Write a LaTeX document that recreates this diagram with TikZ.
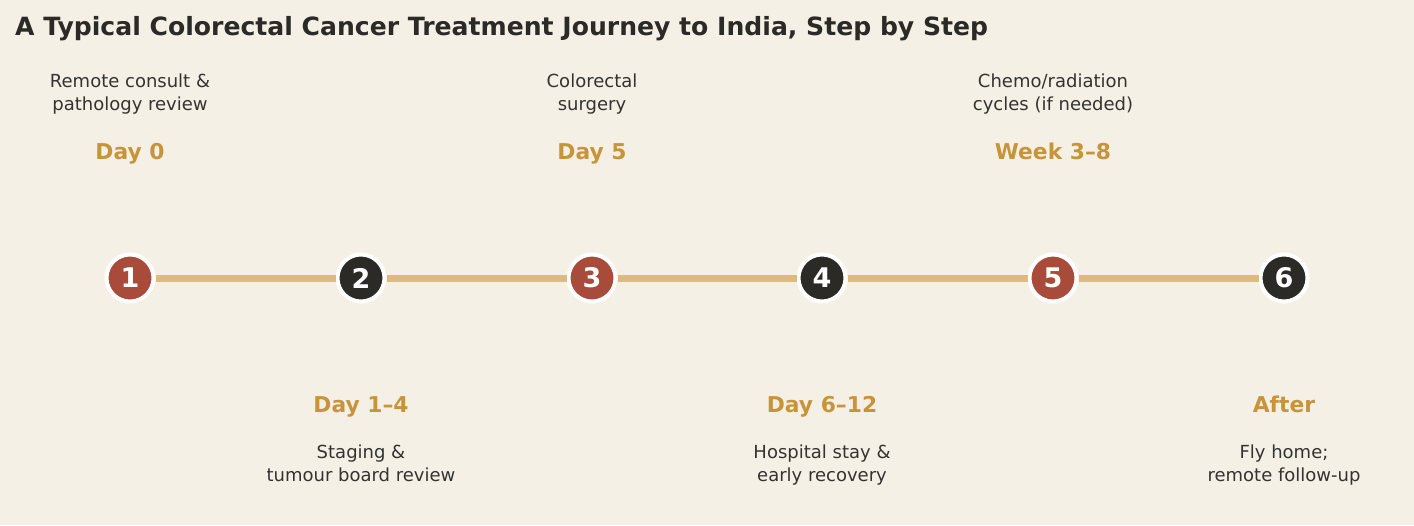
\documentclass[tikz,border=0pt]{standalone}
\usepackage{fontspec}
\setmainfont{DejaVu Sans}
\definecolor{bg}{HTML}{F5F0E6}
\definecolor{ink}{HTML}{2B2A26}
\definecolor{txt}{HTML}{333330}
\definecolor{redc}{HTML}{A84B3A}
\definecolor{darkc}{HTML}{2B2A26}
\definecolor{gold}{HTML}{C8943A}
\definecolor{linec}{HTML}{DDBB7C}
\begin{document}
\begin{tikzpicture}[x=1pt,y=-1pt,
  stepdot/.style={circle,minimum size=47pt,inner sep=0pt,draw=white,line width=4pt,text=white,font=\fontsize{27}{27}\selectfont\bfseries},
  reddot/.style={stepdot,fill=redc},
  darkdot/.style={stepdot,fill=darkc},
  desc/.style={align=center,text=txt,inner sep=0pt,anchor=base,font=\fontsize{18}{22.8}\selectfont},
  when/.style={text=gold,inner sep=0pt,anchor=base,font=\fontsize{21.8}{22}\selectfont\bfseries},
  link/.style={draw=linec,line width=7pt}]
\fill[bg] (0,0) rectangle (1414,525);
\useasboundingbox (0,0) rectangle (1414,525);
\node[anchor=base west,inner sep=0pt,text=ink,font=\fontsize{25.1}{30}\selectfont\bfseries] (title) at (15,35) {A Typical Colorectal Cancer Treatment Journey to India, Step by Step};
\node[reddot] (s1) at (130,278) {1};
\node[darkdot] (s2) at (361,278) {2};
\node[reddot] (s3) at (592,278) {3};
\node[darkdot] (s4) at (822,278) {4};
\node[reddot] (s5) at (1053,278) {5};
\node[darkdot] (s6) at (1284,278) {6};
\path[link] (s1) -- (s2);
\path[link] (s2) -- (s3);
\path[link] (s3) -- (s4);
\path[link] (s4) -- (s5);
\path[link] (s5) -- (s6);
\node[desc] (d1) at (130,110) {Remote consult \&\\pathology review};
\node[when] (w1) at (130,159) {Day 0};
\node[desc] (d3) at (592,110) {Colorectal\\surgery};
\node[when] (w3) at (592,159) {Day 5};
\node[desc] (d5) at (1053,110) {Chemo/radiation\\cycles (if needed)};
\node[when] (w5) at (1053,159) {Week 3–8};
\node[when] (w2) at (361,412) {Day 1–4};
\node[desc] (d2) at (361,481) {Staging \&\\tumour board review};
\node[when] (w4) at (822,412) {Day 6–12};
\node[desc] (d4) at (822,481) {Hospital stay \&\\early recovery};
\node[when] (w6) at (1284,412) {After};
\node[desc] (d6) at (1284,481) {Fly home;\\remote follow-up};
\end{tikzpicture}
\end{document}
